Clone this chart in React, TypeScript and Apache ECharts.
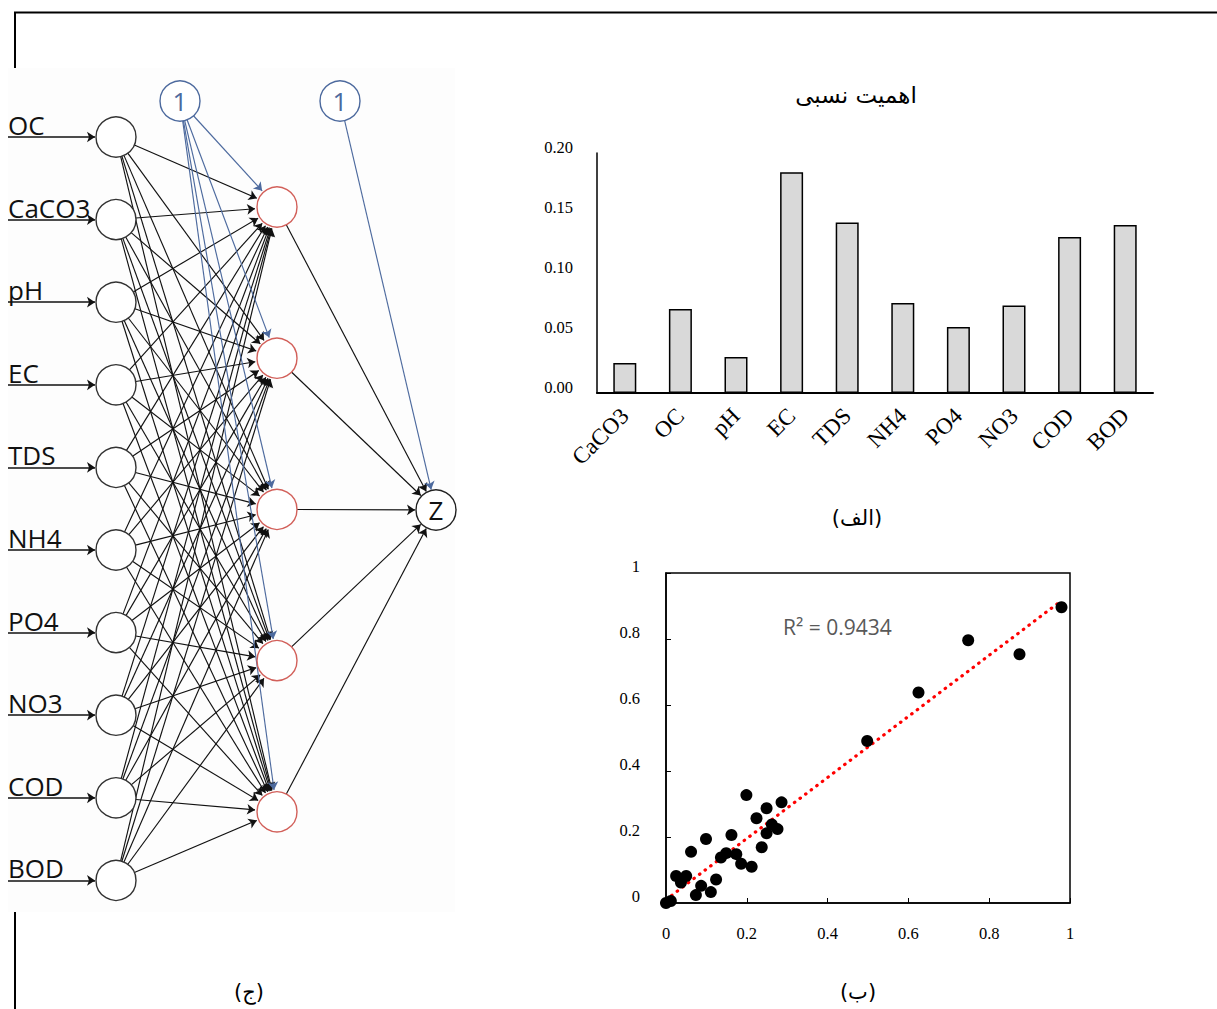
import React, { useEffect, useRef } from "react";
import * as echarts from "echarts";

// ---------- data ----------
const inputNames = ["OC", "CaCO3", "pH", "EC", "TDS", "NH4", "PO4", "NO3", "COD", "BOD"];
const hiddenCount = 5;

const barTitle = "اهمیت نسبی";
const barCategories = ["CaCO3", "OC", "pH", "EC", "TDS", "NH4", "PO4", "NO3", "COD", "BOD"];
const barValues = [0.025, 0.07, 0.03, 0.184, 0.142, 0.075, 0.055, 0.073, 0.13, 0.14];

const scatterX = [0, 0.012, 0.025, 0.037, 0.05, 0.062, 0.074, 0.087, 0.099, 0.111, 0.124, 0.136, 0.149, 0.162, 0.174, 0.186, 0.199, 0.212, 0.224, 0.237, 0.249, 0.249, 0.262, 0.276, 0.286, 0.498, 0.625, 0.748, 0.875, 0.979];
const scatterY = [0, 0.006, 0.082, 0.062, 0.082, 0.155, 0.024, 0.052, 0.194, 0.033, 0.071, 0.138, 0.151, 0.206, 0.148, 0.119, 0.327, 0.11, 0.257, 0.169, 0.287, 0.211, 0.238, 0.224, 0.305, 0.491, 0.638, 0.796, 0.754, 0.896];
const trendX = [0, 0.97];
const trendY = [0.01, 0.908];
const r2Label = "R² = 0.9434";

const captionA = "(الف)";
const captionB = "(ب)";
const captionC = "(ج)";

// ---------- layout (pixels) ----------
const INPUT_X = 116;
const INPUT_Y0 = 137;
const INPUT_DY = 82.6;
const HIDDEN_X = 277;
const HIDDEN_Y0 = 207;
const HIDDEN_DY = 151.2;
const BIAS1 = [180, 101];
const BIAS2 = [340, 101];
const OUT = [436, 510];
const R = 20;

const BLACK = "#111";
const BLUE = "#4d6a9e";
const RED = "#d2605a";

function seg(a: number[], b: number[], ra: number, rb: number) {
  const dx = b[0] - a[0];
  const dy = b[1] - a[1];
  const len = Math.sqrt(dx * dx + dy * dy);
  return [
    [a[0] + (dx / len) * ra, a[1] + (dy / len) * ra],
    [b[0] - (dx / len) * rb, b[1] - (dy / len) * rb],
  ];
}

function buildOption() {
  const inputs = inputNames.map((_, i) => [INPUT_X, INPUT_Y0 + i * INPUT_DY]);
  const hidden = Array.from({ length: hiddenCount }, (_, j) => [HIDDEN_X, HIDDEN_Y0 + j * HIDDEN_DY]);

  const edges: any[] = [];
  inputs.forEach((p) => {
    edges.push({ coords: [[8, p[1]], [p[0] - R - 1, p[1]]], lineStyle: { color: BLACK, width: 1.5 } });
  });
  inputs.forEach((p) => {
    hidden.forEach((h) => {
      edges.push({ coords: seg(p, h, R, R + 2), lineStyle: { color: BLACK, width: 1.15 } });
    });
  });
  hidden.forEach((h) => {
    edges.push({ coords: seg(BIAS1, h, R, R + 2), lineStyle: { color: BLUE, width: 1.15 } });
  });
  hidden.forEach((h) => {
    edges.push({ coords: seg(h, OUT, R, R + 1), lineStyle: { color: BLACK, width: 1.15 } });
  });
  edges.push({ coords: seg(BIAS2, OUT, R, R + 1), lineStyle: { color: BLUE, width: 1.15 } });

  const nodeStyle = (border: string) => ({ color: "#fff", borderColor: border, borderWidth: 1.4, opacity: 1 });
  const nodes: any[] = [];
  inputs.forEach((p) => nodes.push({ value: p, itemStyle: nodeStyle("#333"), label: { show: false } }));
  hidden.forEach((p) => nodes.push({ value: p, itemStyle: nodeStyle(RED), label: { show: false } }));
  [BIAS1, BIAS2].forEach((p) =>
    nodes.push({
      value: p,
      itemStyle: nodeStyle(BLUE),
      label: { show: true, formatter: "1", color: BLUE, fontSize: 26, fontFamily: "Open Sans" },
    })
  );
  nodes.push({
    value: OUT,
    itemStyle: nodeStyle("#222"),
    label: { show: true, formatter: "Z", color: "#111", fontSize: 26, fontFamily: "Open Sans" },
  });

  const graphic: any[] = [
    { type: "rect", shape: { x: 8, y: 68, width: 447, height: 844 }, style: { fill: "#fdfdfd" }, z: -10 },
    { type: "line", shape: { x1: 14, y1: 12.5, x2: 1217, y2: 12.5 }, style: { stroke: "#000", lineWidth: 2 } },
    { type: "line", shape: { x1: 15, y1: 12, x2: 15, y2: 68 }, style: { stroke: "#000", lineWidth: 2 } },
    { type: "line", shape: { x1: 15, y1: 912, x2: 15, y2: 1009 }, style: { stroke: "#000", lineWidth: 2 } },
    {
      type: "text",
      style: { text: barTitle, x: 856, y: 95, align: "center", verticalAlign: "middle", fontSize: 23, fontFamily: "DejaVu Sans", fill: "#000" },
    },
    {
      type: "text",
      style: { text: captionA, x: 857, y: 518, align: "center", verticalAlign: "middle", fontSize: 21, fontFamily: "DejaVu Sans", fill: "#000" },
    },
    {
      type: "text",
      style: { text: captionB, x: 858, y: 992, align: "center", verticalAlign: "middle", fontSize: 21, fontFamily: "DejaVu Sans", fill: "#000" },
    },
    {
      type: "text",
      style: { text: captionC, x: 249, y: 992, align: "center", verticalAlign: "middle", fontSize: 21, fontFamily: "DejaVu Sans", fill: "#000" },
    },
    {
      type: "text",
      style: { text: r2Label, x: 783, y: 627, align: "left", verticalAlign: "middle", fontSize: 21, fontFamily: "Open Sans", fill: "#595959" },
    },
  ];
  inputs.forEach((p, i) => {
    graphic.push({
      type: "text",
      z: 10,
      style: { text: inputNames[i], x: 8, y: p[1] - 12, align: "left", verticalAlign: "middle", fontSize: 26, fontFamily: "Open Sans", fill: "#111" },
    });
  });

  const serifLabel = { fontFamily: "Liberation Serif", fontSize: 16.5, color: "#000" };

  return {
    animation: false,
    backgroundColor: "#fff",
    graphic,
    grid: [
      { left: 597, top: 153, width: 556, height: 240 },
      { left: 666, top: 573, width: 404, height: 330, show: true, borderColor: "#000", borderWidth: 1.5, backgroundColor: "transparent" },
      { left: 0, top: 0, width: 1217, height: 1009 },
    ],
    xAxis: [
      {
        gridIndex: 0,
        type: "category",
        data: barCategories,
        axisLine: { show: true, lineStyle: { color: "#000", width: 2 } },
        axisTick: { show: false },
        axisLabel: { rotate: 45, margin: 19, fontFamily: "Liberation Serif", fontSize: 23, color: "#000", interval: 0 },
      },
      {
        gridIndex: 1,
        type: "value",
        min: 0,
        max: 1,
        interval: 0.2,
        axisLine: { show: true, lineStyle: { color: "#000", width: 1.5 } },
        axisTick: { show: true, inside: true, length: 5, lineStyle: { color: "#000" } },
        splitLine: { show: false },
        axisLabel: { ...serifLabel, margin: 22 },
      },
      { gridIndex: 2, type: "value", min: 0, max: 1217, show: false },
    ],
    yAxis: [
      {
        gridIndex: 0,
        type: "value",
        min: 0,
        max: 0.2,
        interval: 0.05,
        axisLine: { show: true, lineStyle: { color: "#000", width: 1.5 } },
        axisTick: { show: false },
        splitLine: { show: false },
        axisLabel: { ...serifLabel, margin: 24, verticalAlign: "bottom", lineHeight: 12, formatter: (v: number) => v.toFixed(2) },
      },
      {
        gridIndex: 1,
        type: "value",
        min: 0,
        max: 1,
        interval: 0.2,
        axisLine: { show: true, lineStyle: { color: "#000", width: 1.5 } },
        axisTick: { show: true, inside: true, length: 5, lineStyle: { color: "#000" } },
        splitLine: { show: false },
        axisLabel: { ...serifLabel, margin: 26, verticalAlign: "bottom", lineHeight: 13 },
      },
      { gridIndex: 2, type: "value", min: 0, max: 1009, inverse: true, show: false },
    ],
    series: [
      {
        type: "bar",
        xAxisIndex: 0,
        yAxisIndex: 0,
        data: barValues,
        barWidth: 23,
        itemStyle: { color: "#d9d9d9", borderColor: "#000", borderWidth: 1.5 },
        silent: true,
      },
      {
        type: "line",
        xAxisIndex: 1,
        yAxisIndex: 1,
        data: trendX.map((x, i) => [x, trendY[i]]),
        showSymbol: false,
        symbol: "none",
        lineStyle: { color: "#ff0000", width: 3.2, type: [0.5, 6.5], cap: "round" },
        silent: true,
        z: 3,
      },
      {
        type: "scatter",
        xAxisIndex: 1,
        yAxisIndex: 1,
        data: scatterX.map((x, i) => [x, scatterY[i]]),
        symbolSize: 12,
        itemStyle: { color: "#000", opacity: 1 },
        silent: true,
        z: 4,
      },
      {
        type: "lines",
        coordinateSystem: "cartesian2d",
        xAxisIndex: 2,
        yAxisIndex: 2,
        symbol: ["none", "arrow"],
        symbolSize: 8,
        lineStyle: { opacity: 1, curveness: 0 },
        data: edges,
        silent: true,
        z: 2,
      },
      {
        type: "scatter",
        xAxisIndex: 2,
        yAxisIndex: 2,
        symbol: "circle",
        symbolSize: 40,
        data: nodes,
        label: { position: "inside" },
        silent: true,
        z: 5,
      },
    ],
  };
}

export default function App() {
  const ref = useRef<HTMLDivElement>(null);
  useEffect(() => {
    if (!ref.current) return;
    const chart = echarts.init(ref.current, null, { renderer: "svg" });
    chart.setOption(buildOption() as any);
    return () => chart.dispose();
  }, []);
  return <div ref={ref} style={{ position: "absolute", left: 0, top: 0, width: 1217, height: 1009 }} />;
}
